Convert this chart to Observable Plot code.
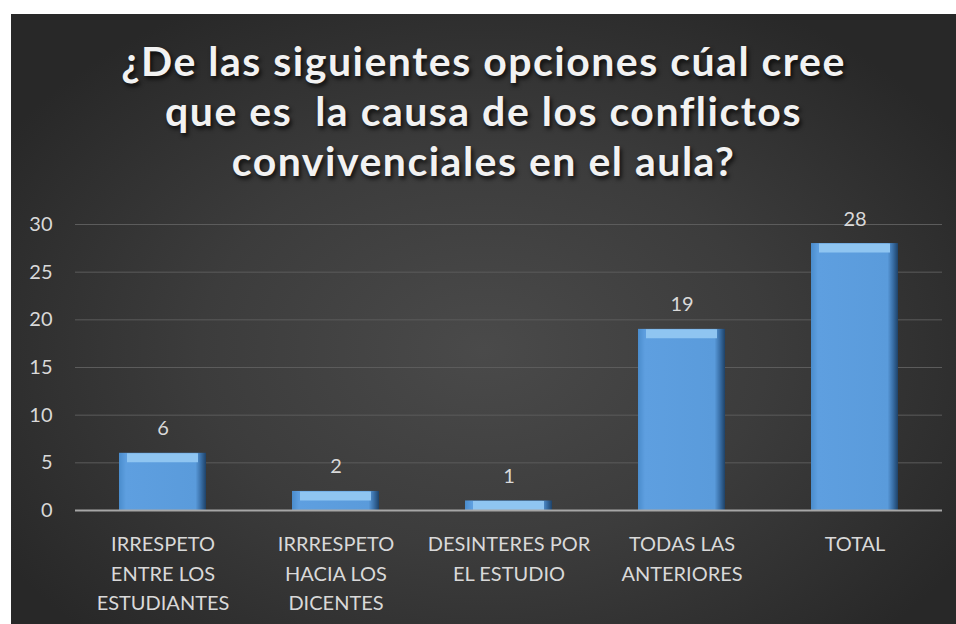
<!DOCTYPE html>
<html>
<head>
<meta charset="utf-8">
<script src="https://cdn.jsdelivr.net/npm/d3@7"></script>
<script src="https://cdn.jsdelivr.net/npm/@observablehq/plot@0.6"></script>
<style>
  html, body { margin: 0; padding: 0; background: #ffffff; width: 956px; height: 624px; overflow: hidden; }
  #panel {
    position: absolute; left: 11px; top: 14px; width: 945px; height: 610px;
    background: radial-gradient(ellipse 60% 65% at 50% 55%, #4a4a4a 0%, #3c3c3c 50%, #282828 100%);
    overflow: hidden;
  }
  #title {
    position: absolute; left: 0; top: 22px; width: 945px; text-align: center;
    font-family: Lato, "Open Sans", sans-serif; font-weight: bold; font-size: 41px;
    letter-spacing: 1.5px; line-height: 50px; color: #f2f2f2;
    text-shadow: 2px 3px 4px rgba(0,0,0,0.75);
  }
  #plot { position: absolute; left: 0; top: 186px; }
</style>
</head>
<body>
<div id="panel">
  <div id="title">¿De las siguientes opciones cúal cree<br>que es&nbsp; la causa de los conflictos<br>convivenciales en el aula?</div>
  <div id="plot"></div>
</div>
<script>
const categories = [
  "IRRESPETO ENTRE LOS ESTUDIANTES",
  "IRRRESPETO HACIA LOS DICENTES",
  "DESINTERES POR EL ESTUDIO",
  "TODAS LAS ANTERIORES",
  "TOTAL"
];
const values = [6, 2, 1, 19, 28];
const tickLabels = [
  "IRRESPETO\nENTRE LOS\nESTUDIANTES",
  "IRRRESPETO\nHACIA LOS\nDICENTES",
  "DESINTERES POR\nEL ESTUDIO",
  "TODAS LAS\nANTERIORES",
  "TOTAL"
];
const yTicks = [0, 5, 10, 15, 20, 25, 30];

const data = categories.map((c, i) => ({category: c, value: values[i]}));
const labelOf = new Map(categories.map((c, i) => [c, tickLabels[i]]));

const defs = () => {
  const d = d3.create("svg:defs");
  const g = d.append("linearGradient").attr("id", "barGrad").attr("x1", "0").attr("x2", "1").attr("y1", "0").attr("y2", "0");
  g.append("stop").attr("offset", "0%").attr("stop-color", "#4a8ccc");
  g.append("stop").attr("offset", "8%").attr("stop-color", "#5e9fe0");
  g.append("stop").attr("offset", "88%").attr("stop-color", "#5a9bdb");
  g.append("stop").attr("offset", "94%").attr("stop-color", "#3a70a8");
  g.append("stop").attr("offset", "100%").attr("stop-color", "#1e4268");
  return d.node();
};

const chart = Plot.plot({
  width: 945,
  height: 424,
  marginTop: 24,
  marginBottom: 114,
  marginLeft: 64,
  marginRight: 14,
  style: {background: "transparent", color: "#d9d9d9", fontFamily: "Lato, 'Open Sans', sans-serif", fontSize: "20px"},
  x: {domain: categories, paddingInner: 0.5, paddingOuter: 0.25, label: null},
  y: {domain: [0, 30], ticks: yTicks, label: null},
  marks: [
    defs,
    Plot.gridY(yTicks.filter(t => t > 0), {stroke: "#5c5c5c", strokeOpacity: 1, strokeWidth: 1}),
    Plot.axisY({ticks: yTicks, tickSize: 0, tickPadding: 23, label: null, fill: "#d9d9d9", fontSize: 20}),
    Plot.axisX({tickSize: 0, tickPadding: 20, label: null, tickFormat: d => labelOf.get(d), lineHeight: 1.47, fill: "#d9d9d9", fontSize: 20}),
    Plot.barY(data, {x: "category", y: "value", fill: "url(#barGrad)"}),
    Plot.tickY(data, {x: "category", y: "value", stroke: "#8fc5f1", strokeWidth: 9, dy: 4.5, insetLeft: 8, insetRight: 8}),
    Plot.ruleY([0], {stroke: "#a6a6a6", strokeWidth: 2}),
    Plot.text(data, {x: "category", y: "value", text: d => String(d.value), dy: -18, lineAnchor: "bottom", fill: "#d9d9d9", fontSize: 20})
  ]
});
document.getElementById("plot").appendChild(chart);
</script>
</body>
</html>
